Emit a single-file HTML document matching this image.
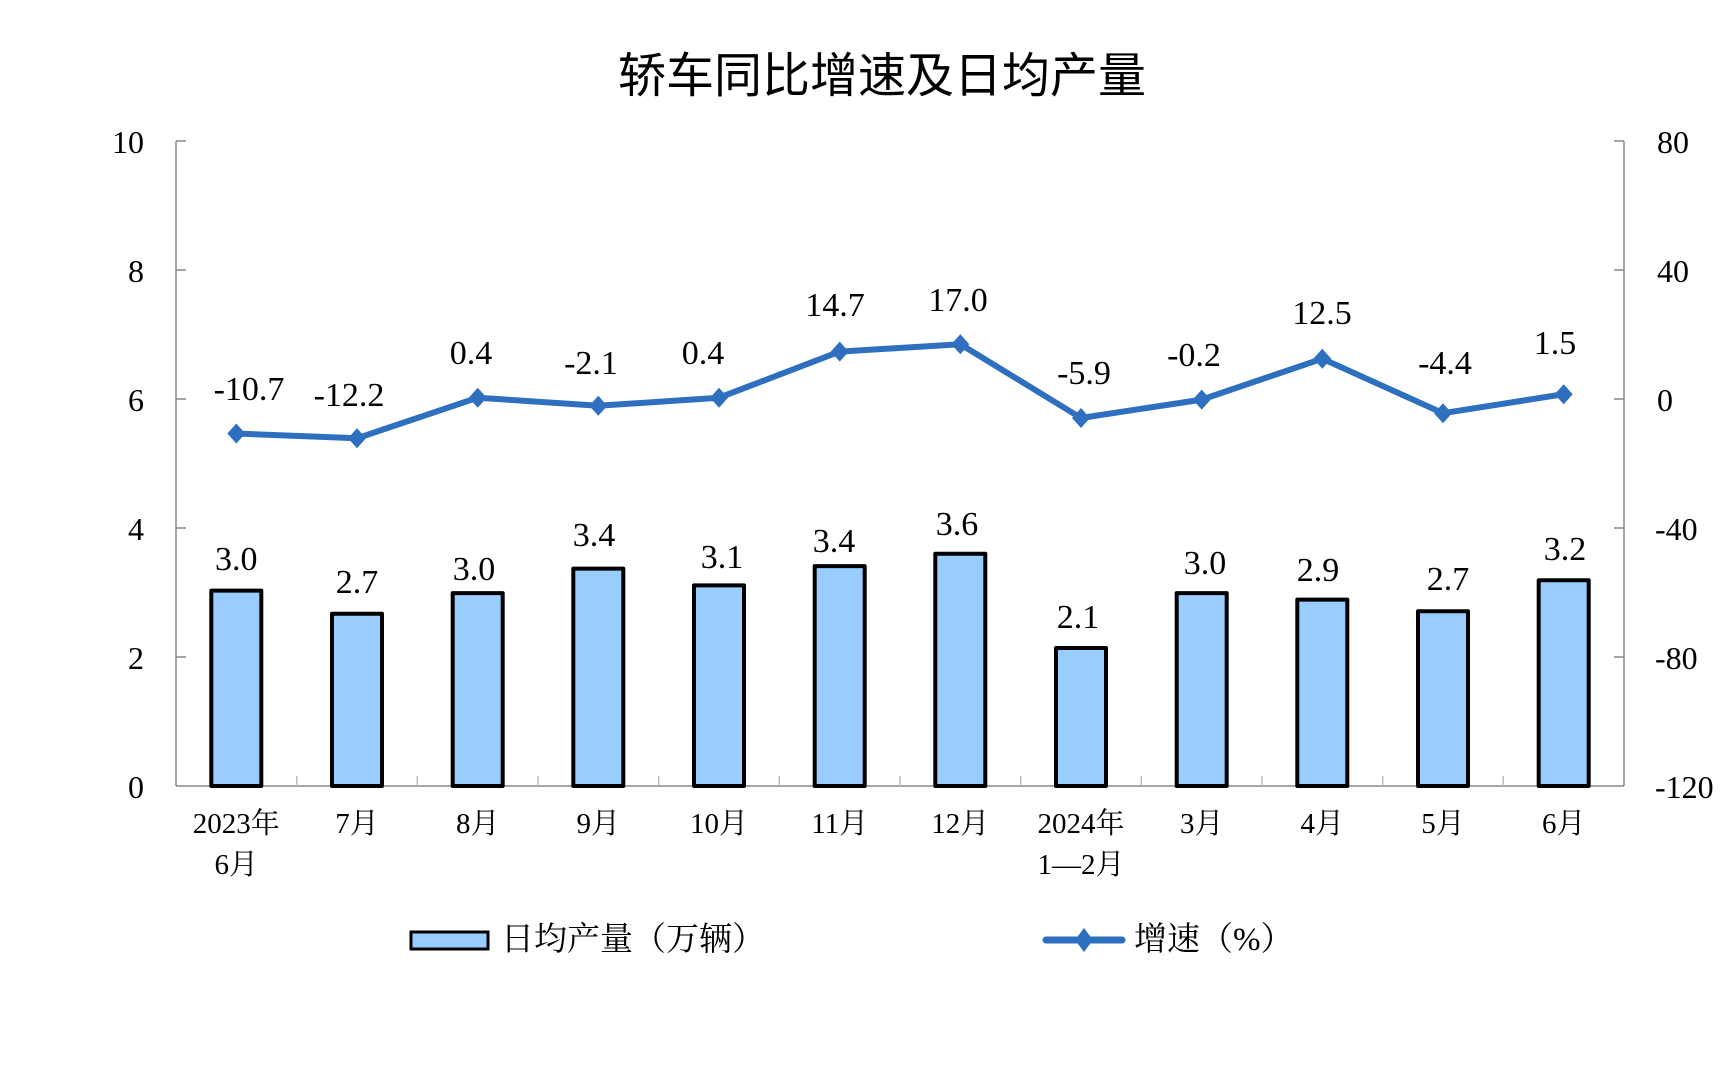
<!DOCTYPE html>
<html><head><meta charset="utf-8"><style>
html,body{margin:0;padding:0;background:#fff;}
svg{display:block;}
.t{font-family:"Liberation Serif","Noto Serif CJK SC",serif;fill:#000;}
</style></head><body>
<svg width="1728" height="1068" viewBox="0 0 1728 1068" xmlns="http://www.w3.org/2000/svg">
<text x="882" y="92" text-anchor="middle" font-family="'Noto Sans CJK SC','WenQuanYi Zen Hei',sans-serif" font-size="48" fill="#000">轿车同比增速及日均产量</text>
<!-- axes -->
<g stroke="#888" stroke-width="1.5" fill="none">
<line x1="176" y1="141" x2="176" y2="786"/>
<line x1="1624" y1="141" x2="1624" y2="786"/>
<line x1="176" y1="786" x2="1624" y2="786"/>
<line x1="176" y1="141" x2="186" y2="141"/><line x1="176" y1="270" x2="186" y2="270"/><line x1="176" y1="399" x2="186" y2="399"/><line x1="176" y1="528" x2="186" y2="528"/><line x1="176" y1="657" x2="186" y2="657"/>
<line x1="1614" y1="141" x2="1624" y2="141"/><line x1="1614" y1="270" x2="1624" y2="270"/><line x1="1614" y1="399" x2="1624" y2="399"/><line x1="1614" y1="528" x2="1624" y2="528"/><line x1="1614" y1="657" x2="1624" y2="657"/>
</g>
<g stroke="#bbb" stroke-width="1.5">
<line x1="296.7" y1="776" x2="296.7" y2="786"/><line x1="417.3" y1="776" x2="417.3" y2="786"/><line x1="538" y1="776" x2="538" y2="786"/><line x1="658.7" y1="776" x2="658.7" y2="786"/><line x1="779.3" y1="776" x2="779.3" y2="786"/><line x1="900" y1="776" x2="900" y2="786"/><line x1="1020.7" y1="776" x2="1020.7" y2="786"/><line x1="1141.3" y1="776" x2="1141.3" y2="786"/><line x1="1262" y1="776" x2="1262" y2="786"/><line x1="1382.7" y1="776" x2="1382.7" y2="786"/><line x1="1503.3" y1="776" x2="1503.3" y2="786"/>
</g>
<g class="t" font-size="32" text-anchor="end">
<text x="144" y="153">10</text><text x="144" y="282">8</text><text x="144" y="411">6</text><text x="144" y="540">4</text><text x="144" y="669">2</text><text x="144" y="798">0</text>
</g>
<g class="t" font-size="32" text-anchor="start">
<text x="1657" y="153">80</text><text x="1657" y="282">40</text><text x="1657" y="411">0</text><text x="1655" y="540">-40</text><text x="1655" y="669">-80</text><text x="1655" y="798">-120</text>
</g>
<!-- bars -->
<g fill="#99CCFF" stroke="#000" stroke-width="4" stroke-linejoin="round">
<rect x="211.3" y="590.6" width="50" height="195.4"/>
<rect x="332" y="613.8" width="50" height="172.2"/>
<rect x="452.7" y="593.1" width="50" height="192.9"/>
<rect x="573.3" y="568.6" width="50" height="217.4"/>
<rect x="694" y="585.4" width="50" height="200.6"/>
<rect x="814.7" y="566.1" width="50" height="219.9"/>
<rect x="935.3" y="553.8" width="50" height="232.2"/>
<rect x="1056" y="648" width="50" height="138"/>
<rect x="1176.7" y="593.1" width="50" height="192.9"/>
<rect x="1297.3" y="599.6" width="50" height="186.4"/>
<rect x="1418" y="611.2" width="50" height="174.8"/>
<rect x="1538.7" y="580.2" width="50" height="205.8"/>
</g>
<g class="t" font-size="34" text-anchor="middle">
<text x="236.3" y="570">3.0</text><text x="357" y="593">2.7</text><text x="474" y="580">3.0</text><text x="594" y="546">3.4</text><text x="722" y="568">3.1</text><text x="834" y="552">3.4</text><text x="957" y="535">3.6</text><text x="1078" y="628">2.1</text><text x="1205" y="574">3.0</text><text x="1318" y="581">2.9</text><text x="1448" y="590">2.7</text><text x="1565" y="560">3.2</text>
</g>
<!-- line -->
<polyline fill="none" stroke="#2E6FC0" stroke-width="6" stroke-linejoin="round" points="236.3,433.5 357,438.3 477.7,397.7 598.3,405.8 719,397.7 839.7,351.6 960.3,344.2 1081,418 1201.7,399.6 1322.3,358.7 1443,413.2 1563.7,394.2"/>
<g fill="#2E6FC0">
<path d="M236.3,423.5l9,10l-9,10l-9,-10z"/><path d="M357,428.3l9,10l-9,10l-9,-10z"/><path d="M477.7,387.7l9,10l-9,10l-9,-10z"/><path d="M598.3,395.8l9,10l-9,10l-9,-10z"/><path d="M719,387.7l9,10l-9,10l-9,-10z"/><path d="M839.7,341.6l9,10l-9,10l-9,-10z"/><path d="M960.3,334.2l9,10l-9,10l-9,-10z"/><path d="M1081,408l9,10l-9,10l-9,-10z"/><path d="M1201.7,389.6l9,10l-9,10l-9,-10z"/><path d="M1322.3,348.7l9,10l-9,10l-9,-10z"/><path d="M1443,403.2l9,10l-9,10l-9,-10z"/><path d="M1563.7,384.2l9,10l-9,10l-9,-10z"/>
</g>
<g class="t" font-size="34" text-anchor="middle">
<text x="249" y="400">-10.7</text><text x="349" y="406">-12.2</text><text x="471" y="364">0.4</text><text x="591" y="374">-2.1</text><text x="703" y="364">0.4</text><text x="835" y="316">14.7</text><text x="958" y="311">17.0</text><text x="1084" y="384">-5.9</text><text x="1194" y="366">-0.2</text><text x="1322" y="324">12.5</text><text x="1445" y="374">-4.4</text><text x="1555" y="354">1.5</text>
</g>
<g class="t" font-size="29" text-anchor="middle">
<text x="236.3" y="833">2023年</text><text x="236.3" y="874">6月</text>
<text x="357" y="833">7月</text><text x="477.7" y="833">8月</text><text x="598.3" y="833">9月</text><text x="719" y="833">10月</text><text x="839.7" y="833">11月</text><text x="960.3" y="833">12月</text>
<text x="1081" y="833">2024年</text><text x="1081" y="874">1—2月</text>
<text x="1201.7" y="833">3月</text><text x="1322.3" y="833">4月</text><text x="1443" y="833">5月</text><text x="1563.7" y="833">6月</text>
</g>
<!-- legend -->
<rect x="411" y="932" width="77" height="17" fill="#99CCFF" stroke="#000" stroke-width="3"/>
<text class="t" x="501" y="950" font-size="33">日均产量（万辆）</text>
<line x1="1046" y1="940" x2="1122" y2="940" stroke="#2E6FC0" stroke-width="7" stroke-linecap="round"/>
<path d="M1084,928l9,12l-9,12l-9,-12z" fill="#2E6FC0"/>
<text class="t" x="1134" y="950" font-size="33">增速（%）</text>
</svg>
</body></html>
